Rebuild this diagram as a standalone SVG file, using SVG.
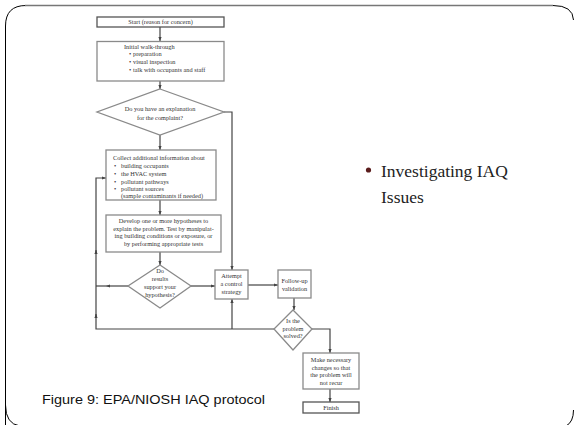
<svg xmlns="http://www.w3.org/2000/svg" width="574" height="425" viewBox="0 0 574 425">
<style>
.box{fill:#fff;stroke:#8a8a8a;stroke-width:1.3}
.ln{fill:none;stroke:#444;stroke-width:1.2}
.t{font-family:"Liberation Serif",serif;font-size:6.3px;fill:#333}
.c{text-anchor:middle}
</style>
<defs>
<marker id="ah" viewBox="0 0 10 10" refX="10" refY="5" markerWidth="4" markerHeight="4" orient="auto" markerUnits="userSpaceOnUse">
<path d="M0,1 L10,5 L0,9 z" fill="#444"/>
</marker>
</defs>
<rect width="574" height="425" fill="#fff"/>
<g id="frame">
<path d="M5.5,425 L5.5,26 Q5.5,5.5 26,5.5 L553,5.5" fill="none" stroke="#000" stroke-width="1"/>
<path d="M25,5.5 L553,5.5" fill="none" stroke="#777" stroke-width="1.6"/>
<path d="M553,5.5 Q573,5.5 573.5,20" fill="none" stroke="#000" stroke-width="1"/>
<path d="M5.5,405 Q5.5,424 20,426" fill="none" stroke="#000" stroke-width="1"/>
<path d="M573.5,410 Q573.5,422 566,426" fill="none" stroke="#000" stroke-width="1"/>
</g>
<g id="connectors">
<path class="ln" d="M160,27 V41" marker-end="url(#ah)"/>
<path class="ln" d="M160,81 V89" marker-end="url(#ah)"/>
<path class="ln" d="M160,135 V150" marker-end="url(#ah)"/>
<path class="ln" d="M224,112 H232 V270" marker-end="url(#ah)"/>
<path class="ln" d="M160,200 V215" marker-end="url(#ah)"/>
<path class="ln" d="M160,252 V265" marker-end="url(#ah)"/>
<path class="ln" d="M191,286 H215" marker-end="url(#ah)"/>
<path class="ln" d="M128,286 H106" marker-end="url(#ah)"/>
<path class="ln" d="M106,286 H96"/>
<path class="ln" d="M248,285 H278" marker-end="url(#ah)"/>
<path class="ln" d="M294,298 V310" marker-end="url(#ah)"/>
<path class="ln" d="M274,329 H96 V316" />
<path class="ln" d="M96,318 V314" marker-end="url(#ah)"/>
<path class="ln" d="M96,316 V252"/>
<path class="ln" d="M96,254 V250" marker-end="url(#ah)"/>
<path class="ln" d="M96,252 V178 H106" marker-end="url(#ah)"/>
<path class="ln" d="M232,329 V299" marker-end="url(#ah)"/>
<path class="ln" d="M312,329 H330 V353" marker-end="url(#ah)"/>
<path class="ln" d="M330,389 V402" marker-end="url(#ah)"/>
</g>
<g id="start">
<rect class="box" x="97" y="17" width="127" height="10" style="stroke:#555"/>
<text class="t c" x="160.5" y="24.3">Start (reason for concern)</text>
</g>
<g id="walkthrough">
<rect class="box" x="97" y="41.5" width="127" height="39.5"/>
<text class="t" x="124" y="49">Initial walk-through</text>
<text class="t" x="129" y="56">•</text><text class="t" x="133" y="56">preparation</text>
<text class="t" x="129" y="64">•</text><text class="t" x="133" y="64">visual inspection</text>
<text class="t" x="129" y="72">•</text><text class="t" x="133" y="72">talk with occupants and staff</text>
</g>
<g id="explanation">
<polygon class="box" points="160,89 224,112 160,135 97,112"/>
<text class="t c" x="160" y="111">Do you have an explanation</text>
<text class="t c" x="160" y="119.5">for the complaint?</text>
</g>
<g id="collect">
<rect class="box" x="106" y="150" width="110" height="50"/>
<text class="t" x="113" y="160">Collect additional information about</text>
<text class="t" x="114" y="168">•</text><text class="t" x="121" y="168">building occupants</text>
<text class="t" x="114" y="175.5">•</text><text class="t" x="121" y="175.5">the HVAC system</text>
<text class="t" x="114" y="183.5">•</text><text class="t" x="121" y="183.5">pollutant pathways</text>
<text class="t" x="114" y="191">•</text><text class="t" x="121" y="191">pollutant sources</text>
<text class="t" x="121" y="198">(sample contaminants if needed)</text>
</g>
<g id="hypothesis">
<rect class="box" x="106" y="215" width="115" height="37"/>
<text class="t c" x="163.5" y="223">Develop one or more hypotheses to</text>
<text class="t c" x="163.5" y="230.5">explain the problem. Test by manipulat-</text>
<text class="t c" x="163.5" y="238">ing building conditions or exposure, or</text>
<text class="t c" x="163.5" y="245.5">by performing appropriate tests</text>
</g>
<g id="support">
<polygon class="box" points="160,265 191,286 160,308 128,286"/>
<text class="t c" x="160" y="273">Do</text>
<text class="t c" x="160" y="281">results</text>
<text class="t c" x="160" y="289">support your</text>
<text class="t c" x="160" y="296.5">hypothesis?</text>
</g>
<g id="attempt">
<rect class="box" x="215" y="270" width="33" height="29"/>
<text class="t c" x="231.5" y="278">Attempt</text>
<text class="t c" x="231.5" y="286">a control</text>
<text class="t c" x="231.5" y="294">strategy</text>
</g>
<g id="followup">
<rect class="box" x="278" y="270" width="33" height="28"/>
<text class="t c" x="294.5" y="283">Follow-up</text>
<text class="t c" x="294.5" y="291">validation</text>
</g>
<g id="solved">
<polygon class="box" points="293,310 312,329 293,350 274,329"/>
<text class="t c" x="293" y="323">Is the</text>
<text class="t c" x="293" y="331">problem</text>
<text class="t c" x="293" y="338">solved?</text>
</g>
<g id="changes">
<rect class="box" x="303" y="353" width="56" height="36"/>
<text class="t c" x="331" y="362">Make necessary</text>
<text class="t c" x="331" y="369.5">changes so that</text>
<text class="t c" x="331" y="377">the problem will</text>
<text class="t c" x="331" y="384.5">not recur</text>
</g>
<g id="finish">
<rect class="box" x="303" y="402" width="56" height="11" style="stroke:#555"/>
<text class="t c" x="331" y="410">Finish</text>
</g>
<g id="bullet">
<circle cx="368.5" cy="170" r="2.6" fill="#5a1c1c"/>
<text x="381" y="177" font-family="Liberation Serif, serif" font-size="17.5" fill="#222">Investigating IAQ</text>
<text x="381" y="203" font-family="Liberation Serif, serif" font-size="17.5" fill="#222">Issues</text>
</g>
<g id="caption">
<text x="42" y="404" font-family="Liberation Sans, Arial, sans-serif" font-size="13.5" textLength="223" lengthAdjust="spacingAndGlyphs" fill="#111">Figure 9: EPA/NIOSH IAQ protocol</text>
</g>
</svg>
